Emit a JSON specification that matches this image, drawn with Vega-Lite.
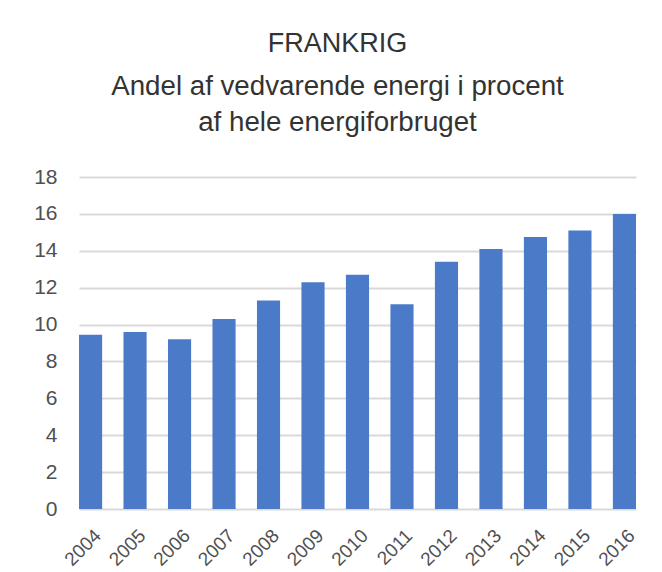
{
  "$schema": "https://vega.github.io/schema/vega-lite/v6.json",
  "width": 557,
  "height": 332,
  "autosize": {"type": "none"},
  "padding": {"left": 79, "top": 177, "right": 26, "bottom": 63},
  "background": "white",
  "title": {
    "text": "FRANKRIG",
    "subtitle": ["Andel af vedvarende energi i procent", "af hele energiforbruget"],
    "anchor": "middle",
    "dx": -20,
    "offset": 28,
    "font": "Liberation Sans",
    "fontSize": 27,
    "fontWeight": "normal",
    "color": "#333333",
    "subtitleFont": "Liberation Sans",
    "subtitleFontSize": 27.7,
    "subtitleColor": "#333333",
    "subtitleLineHeight": 36,
    "subtitlePadding": 15
  },
  "data": {
    "values": [
      {"year": "2004", "value": 9.45},
      {"year": "2005", "value": 9.6},
      {"year": "2006", "value": 9.2},
      {"year": "2007", "value": 10.3},
      {"year": "2008", "value": 11.3},
      {"year": "2009", "value": 12.3},
      {"year": "2010", "value": 12.7},
      {"year": "2011", "value": 11.1},
      {"year": "2012", "value": 13.4},
      {"year": "2013", "value": 14.1},
      {"year": "2014", "value": 14.75},
      {"year": "2015", "value": 15.1},
      {"year": "2016", "value": 16.0}
    ]
  },
  "mark": {"type": "bar", "color": "#4b7bc8"},
  "encoding": {
    "x": {
      "field": "year",
      "type": "ordinal",
      "scale": {"paddingInner": 0.48, "paddingOuter": 0},
      "axis": {
        "title": null,
        "labelAngle": -45,
        "labelFont": "Liberation Sans",
        "labelFontSize": 19,
        "labelColor": "#505050",
        "labelOffset": 1,
        "ticks": false,
        "domain": false,
        "labelPadding": 17
      }
    },
    "y": {
      "field": "value",
      "type": "quantitative",
      "scale": {"domain": [0, 18], "nice": false},
      "axis": {
        "title": null,
        "values": [0, 2, 4, 6, 8, 10, 12, 14, 16, 18],
        "labelFont": "Liberation Sans",
        "labelFontSize": 21,
        "labelColor": "#505050",
        "ticks": false,
        "domain": false,
        "labelPadding": 22,
        "gridColor": "#d9d9d9",
        "gridWidth": 2
      }
    }
  },
  "config": {"view": {"stroke": null}}
}
